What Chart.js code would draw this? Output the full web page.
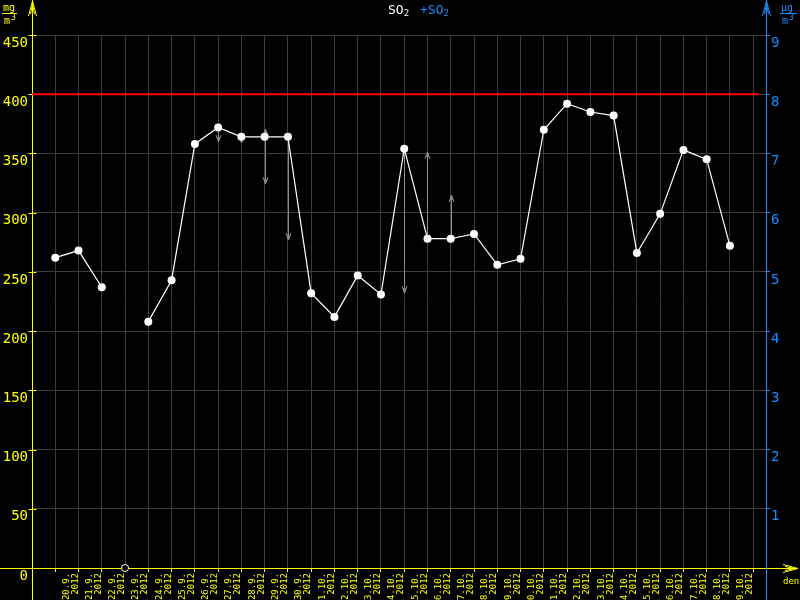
<!DOCTYPE html>
<html>
<head>
<meta charset="utf-8">
<script src="https://cdn.jsdelivr.net/npm/chart.js@4/dist/chart.umd.min.js"></script>
<style>
body { margin: 0; background: #000; }
canvas { display: block; }
</style>
</head>
<body>
<canvas id="canvas" width="800" height="600"></canvas>
<script>
const days = ['20.9.', '21.9.', '22.9.', '23.9.', '24.9.', '25.9.', '26.9.', '27.9.', '28.9.', '29.9.', '30.9.',
    '1.10.', '2.10.', '3.10.', '4.10.', '5.10.', '6.10.', '7.10.', '8.10.', '9.10.', '10.10.',
    '11.10.', '12.10.', '13.10.', '14.10.', '15.10.', '16.10.', '17.10.', '18.10.', '19.10.']
const year = '2012'

// denni prumery SO2 [mg/m3], null = chybi
const so2 = [262, 268, 237, null, 208, 243, 358, 372, 364, 364, 364,
    232, 212, 247, 231, 354, 278, 278, 282, 256, 261,
    370, 392, 385, 382, 266, 299, 353, 345, 272]

const limit = 400

// sede sipky: den a hodnota, kam sipka miri
const arrowDay = [7, 8, 9, 9, 10, 15, 16, 17]
const arrowTo = [360, 359, 371, 324, 277, 232, 351, 315]

const leftMax = 450
const rightMax = 9

const YELLOW = '#ffff00'
const BLUE = '#1a8cff'
const GRID = '#3c3c3c'
const ARROW = '#8c8c8c'
const FONT = 'DejaVu Sans Mono'

const points = so2.map((v, i) => ({ x: i, y: v }))
const missing = so2.map((v, i) => v === null ? { x: i, y: 0 } : null).filter(p => p)

function vline(ctx, x, y0, y1) {
    ctx.beginPath()
    ctx.moveTo(x, y0)
    ctx.lineTo(x, y1)
    ctx.stroke()
}

const decor = {
    id: 'decor',
    beforeDatasetsDraw(chart) {
        const ctx = chart.ctx
        const xs = chart.scales.x
        const ys = chart.scales.y
        const a = chart.chartArea
        ctx.save()
        ctx.lineWidth = 1

        // sipky
        ctx.strokeStyle = ARROW
        arrowDay.forEach((d, i) => {
            const px = Math.round(xs.getPixelForValue(d)) + 0.5
            const y0 = ys.getPixelForValue(so2[d])
            const y1 = Math.round(ys.getPixelForValue(arrowTo[i]))
            const dir = y1 > y0 ? 1 : -1
            vline(ctx, px, y0, y1)
            ctx.beginPath()
            ctx.moveTo(px - 2.5, y1 - dir * 7)
            ctx.lineTo(px, y1)
            ctx.lineTo(px + 2.5, y1 - dir * 7)
            ctx.moveTo(px - 1, y1 - dir * 5)
            ctx.lineTo(px, y1 - dir * 1)
            ctx.lineTo(px + 1, y1 - dir * 5)
            ctx.stroke()
        })

        // osy
        const L = Math.round(a.left) + 0.5
        const R = Math.round(a.right) + 0.5
        const B = Math.round(a.bottom) + 0.5
        ctx.strokeStyle = YELLOW
        vline(ctx, L, 0, 600)
        ctx.beginPath()
        ctx.moveTo(0, B)
        ctx.lineTo(797, B)
        ctx.stroke()
        // sipka nahoru
        ctx.beginPath()
        ctx.moveTo(L - 4, 16); ctx.lineTo(L, 1); ctx.lineTo(L + 4, 16)
        ctx.moveTo(L - 2, 14); ctx.lineTo(L, 4); ctx.lineTo(L + 2, 14)
        ctx.stroke()
        // sipka doprava
        ctx.beginPath()
        ctx.moveTo(783, B - 4); ctx.lineTo(798, B); ctx.lineTo(783, B + 4)
        ctx.moveTo(785, B - 2); ctx.lineTo(795, B); ctx.lineTo(785, B + 2)
        ctx.stroke()
        // male znacky leve osy
        ys.ticks.forEach(t => {
            const py = Math.round(ys.getPixelForValue(t.value)) + 0.5
            ctx.beginPath()
            ctx.moveTo(L - 4, py)
            ctx.lineTo(L + 4, py)
            ctx.stroke()
        })

        ctx.strokeStyle = BLUE
        vline(ctx, R, 0, 600)
        ctx.beginPath()
        ctx.moveTo(R - 4, 16); ctx.lineTo(R, 1); ctx.lineTo(R + 4, 16)
        ctx.moveTo(R - 2, 14); ctx.lineTo(R, 4); ctx.lineTo(R + 2, 14)
        ctx.stroke()
        ctx.restore()
    },
    afterDraw(chart) {
        const ctx = chart.ctx
        ctx.save()
        ctx.textBaseline = 'alphabetic'
        ctx.textAlign = 'left'

        // nadpis
        let x = 388
        ctx.font = '13px "' + FONT + '"'
        ctx.fillStyle = '#ffffff'
        ctx.fillText('SO', x, 14)
        x += ctx.measureText('SO').width
        ctx.font = '9px "' + FONT + '"'
        ctx.fillText('2', x, 16)
        x = 420
        ctx.font = '13px "' + FONT + '"'
        ctx.fillStyle = BLUE
        ctx.fillText('+SO', x, 14)
        x += ctx.measureText('+SO').width
        ctx.font = '9px "' + FONT + '"'
        ctx.fillText('2', x, 16)

        // jednotky
        function unit(top, x0, x1, color) {
            ctx.fillStyle = color
            ctx.strokeStyle = color
            ctx.font = '10px "' + FONT + '"'
            ctx.fillText(top, x0 + 1, 11)
            ctx.beginPath()
            ctx.moveTo(x0, 13.5)
            ctx.lineTo(x1, 13.5)
            ctx.stroke()
            ctx.fillText('m', x0 + 2, 24)
            ctx.font = '8px "' + FONT + '"'
            ctx.fillText('3', x0 + 9, 20)
        }
        unit('mg', 2, 17, YELLOW)
        unit('\u00b5g', 780, 797, BLUE)

        ctx.fillStyle = YELLOW
        ctx.font = '9px "' + FONT + '"'
        ctx.fillText('den', 783, 584)
        ctx.restore()
    }
}

const data = {
    datasets: [
        {
            label: 'limit',
            data: [{ x: -1, y: limit }, { x: 30.25, y: limit }],
            borderColor: '#ff0000',
            borderWidth: 2,
            pointRadius: 0,
        },
        {
            label: 'SO2',
            data: points,
            borderColor: '#ffffff',
            backgroundColor: '#ffffff',
            borderWidth: 1.2,
            pointRadius: 4,
            pointBorderWidth: 0,
            spanGaps: false,
        },
        {
            label: 'chybi',
            data: missing,
            showLine: false,
            borderColor: '#ffffff',
            backgroundColor: '#000000',
            borderWidth: 1,
            pointRadius: 3.5,
            clip: false,
        }
    ]
}

const config = {
    type: 'line',
    data: data,
    options: {
        responsive: false,
        animation: false,
        layout: { padding: { top: 35, left: 0, right: 0, bottom: 0 } },
        plugins: {
            legend: { display: false },
            tooltip: { enabled: false },
        },
        scales: {
            x: {
                type: 'linear',
                min: -1,
                max: 30.55,
                afterBuildTicks: s => { s.ticks = days.map((d, i) => ({ value: i })).concat([{ value: days.length }]) },
                afterFit: s => { s.height = 32 },
                border: { display: false },
                grid: { color: GRID, tickColor: YELLOW, tickLength: 4 },
                ticks: {
                    autoSkip: false,
                    minRotation: 90,
                    maxRotation: 90,
                    padding: 1,
                    labelOffset: 11,
                    color: YELLOW,
                    font: { family: FONT, size: 9, lineHeight: 1 },
                    callback: v => v >= 0 && v < days.length ? [days[v], year] : '',
                },
            },
            y: {
                position: 'left',
                min: 0,
                max: leftMax,
                afterFit: s => { s.width = 32 },
                border: { display: false },
                grid: { color: GRID, drawTicks: false },
                ticks: {
                    stepSize: 50,
                    padding: 4,
                    labelOffset: 8,
                    color: YELLOW,
                    font: { family: FONT, size: 14 },
                },
            },
            y2: {
                position: 'right',
                min: 0,
                max: rightMax,
                afterFit: s => { s.width = 34 },
                border: { display: false },
                grid: { drawOnChartArea: false, tickColor: BLUE, tickLength: 4 },
                ticks: {
                    stepSize: 1,
                    padding: 1,
                    labelOffset: 8,
                    color: BLUE,
                    font: { family: FONT, size: 14 },
                    callback: v => v === 0 ? '' : v,
                },
            },
        },
    },
    plugins: [decor],
}

const canvas = document.getElementById('canvas')
const chart = new Chart(canvas, config)
</script>
</body>
</html>
